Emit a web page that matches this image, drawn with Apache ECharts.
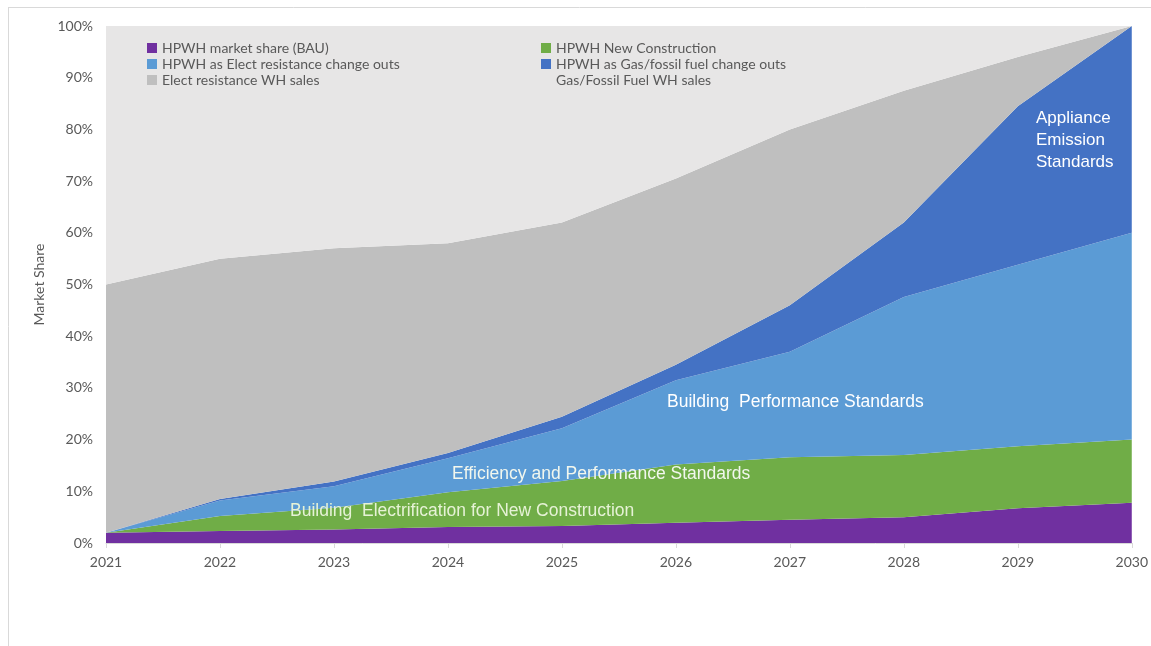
<!DOCTYPE html>
<html>
<head>
<meta charset="utf-8">
<script src="https://cdn.jsdelivr.net/npm/echarts@6/dist/echarts.min.js"></script>
<style>
  html, body { margin: 0; padding: 0; background: #ffffff; }
  #chart { width: 1151px; height: 646px; }
</style>
</head>
<body>
<div id="chart"></div>
<script>
// Years on the horizontal axis
const years = ['2021', '2022', '2023', '2024', '2025', '2026', '2027', '2028', '2029', '2030'];

// Market share (%) of each segment, stacked bottom to top
const hpwhBAU          = [2.0, 2.3, 2.6, 3.1, 3.3, 3.9, 4.5, 5.0, 6.7, 7.8];
const hpwhNewConstr    = [0.0, 2.9, 4.2, 6.7, 8.7, 11.3, 12.1, 12.0, 12.0, 12.2];
const hpwhElecChange   = [0.0, 3.0, 4.2, 6.6, 10.2, 16.3, 20.4, 30.6, 35.1, 40.0];
const hpwhGasChange    = [0.0, 0.3, 0.9, 1.0, 2.2, 3.0, 9.0, 14.4, 30.7, 40.0];
const elecResistSales  = [48.0, 46.5, 45.1, 40.6, 37.6, 36.0, 34.0, 25.5, 9.5, 0.0];
const gasFossilSales   = [50.0, 45.0, 43.0, 42.0, 38.0, 30.0, 20.0, 12.5, 6.0, 0.0];

const seriesNames = [
  'HPWH market share (BAU)',
  'HPWH New Construction',
  'HPWH as Elect resistance change outs',
  'HPWH as Gas/fossil fuel change outs',
  'Elect resistance WH sales',
  'Gas/Fossil Fuel WH sales'
];
const seriesData = [hpwhBAU, hpwhNewConstr, hpwhElecChange, hpwhGasChange, elecResistSales, gasFossilSales];
const seriesColors = ['#7030a0', '#70ad47', '#5b9bd5', '#4472c4', '#bfbfbf', '#e7e6e6'];

const labelFont = 'Lato, "Open Sans", sans-serif';
const noteFont = '"Liberation Sans", Arial, sans-serif';

const chart = echarts.init(document.getElementById('chart'));

const legendText = { color: '#595959', fontSize: 14, fontFamily: labelFont };

chart.setOption({
  animation: false,
  grid: { left: 106, right: 13, top: 26, bottom: 103 },
  legend: [
    {
      left: 142, top: 36, orient: 'vertical', itemGap: 2,
      itemWidth: 10, itemHeight: 10, icon: 'rect',
      textStyle: legendText,
      data: [seriesNames[0], seriesNames[2], seriesNames[4]]
    },
    {
      left: 536, top: 36, orient: 'vertical', itemGap: 2,
      itemWidth: 10, itemHeight: 10, icon: 'rect',
      textStyle: legendText,
      data: [seriesNames[1], seriesNames[3], seriesNames[5]]
    }
  ],
  xAxis: {
    type: 'category',
    data: years,
    boundaryGap: false,
    axisLine: { show: true, lineStyle: { color: '#d9d9d9' } },
    axisTick: { show: true, length: 5, lineStyle: { color: '#d9d9d9' } },
    axisLabel: { color: '#595959', fontSize: 14, fontFamily: labelFont, margin: 12 },
    splitLine: { show: false }
  },
  yAxis: {
    type: 'value',
    min: 0, max: 100, interval: 10,
    name: 'Market Share',
    nameLocation: 'middle',
    nameGap: 56,
    nameTextStyle: { color: '#595959', fontSize: 14, fontFamily: labelFont },
    axisLine: { show: false },
    axisTick: { show: false },
    splitLine: { show: false },
    axisLabel: { color: '#595959', fontSize: 14, fontFamily: labelFont, margin: 13, formatter: '{value}%' }
  },
  series: seriesNames.map((name, i) => ({
    name: name,
    type: 'line',
    stack: 'share',
    data: seriesData[i],
    symbol: 'none',
    lineStyle: { width: 0 },
    itemStyle: { color: seriesColors[i] },
    areaStyle: { color: seriesColors[i], opacity: 1 },
    z: 2
  })),
  graphic: [
    // outer frame lines
    { type: 'line', shape: { x1: 8, y1: 7.5, x2: 1151, y2: 7.5 }, style: { stroke: '#d9d9d9', lineWidth: 1 } },
    { type: 'line', shape: { x1: 8.5, y1: 7, x2: 8.5, y2: 646 }, style: { stroke: '#d9d9d9', lineWidth: 1 } },
    // policy annotations
    { type: 'text', left: 1036, top: 107, z: 10,
      style: { text: 'Appliance\nEmission\nStandards', fill: '#ffffff', font: '17px ' + noteFont, lineHeight: 22 } },
    { type: 'text', left: 667, top: 393, z: 10,
      style: { text: 'Building  Performance Standards', fill: '#ffffff', font: '17.5px ' + noteFont } },
    { type: 'text', left: 452, top: 465, z: 10,
      style: { text: 'Efficiency and Performance Standards', fill: '#f2f7ee', font: '17.5px ' + noteFont } },
    { type: 'text', left: 290, top: 502, z: 10,
      style: { text: 'Building  Electrification for New Construction', fill: '#e6f2d6', font: '17.5px ' + noteFont } }
  ]
});
</script>
</body>
</html>
